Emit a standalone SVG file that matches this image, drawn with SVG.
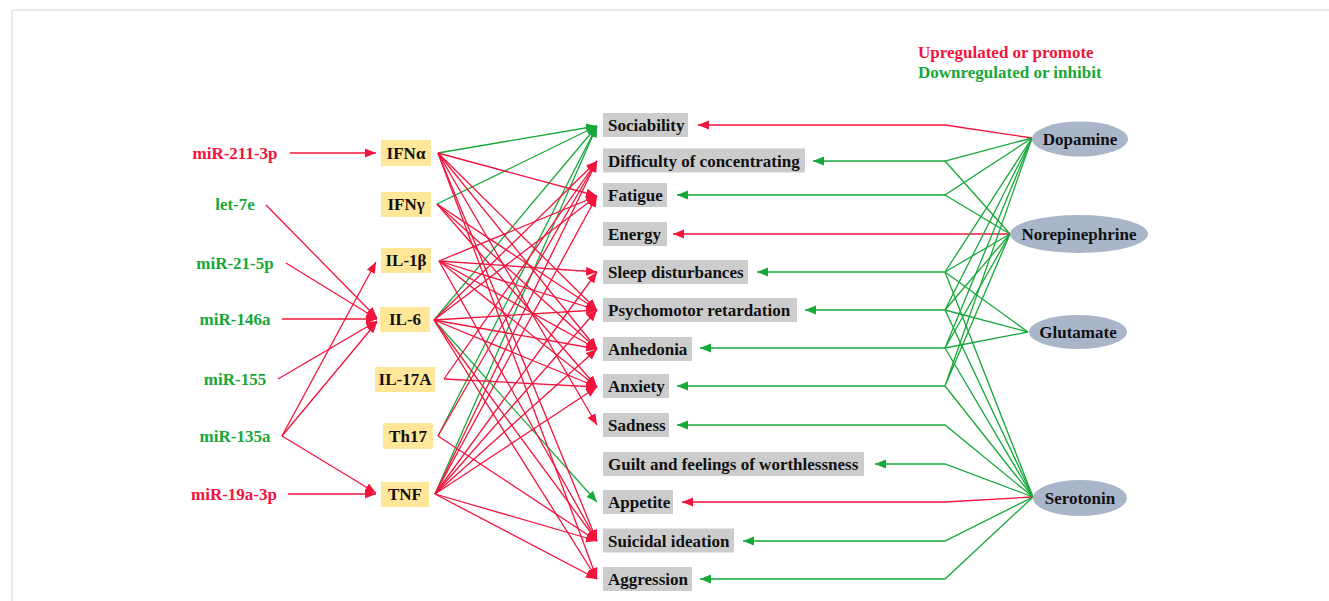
<svg xmlns="http://www.w3.org/2000/svg" width="1329" height="601" viewBox="0 0 1329 601">
<style>
text{font-family:"Liberation Serif","Times New Roman",serif;font-weight:bold;font-size:17px}
.r{fill:#f2143c}.g{fill:#17a83a}.k{fill:#111}
.cy{fill:#ffe699}.sy{fill:#cccccc}.nt{fill:#a9b6ca}
.lr{stroke:#f2143c;stroke-width:1.3;fill:none}
.lg{stroke:#17a83a;stroke-width:1.3;fill:none}
.ar{marker-end:url(#ahr)}.ag{marker-end:url(#ahg)}
</style>
<defs>
<marker id="ahr" markerUnits="userSpaceOnUse" markerWidth="12" markerHeight="10" refX="11" refY="4.5" orient="auto"><path d="M0,0 L11,4.5 L0,9 z" fill="#f2143c"/></marker>
<marker id="ahg" markerUnits="userSpaceOnUse" markerWidth="12" markerHeight="10" refX="11" refY="4.5" orient="auto"><path d="M0,0 L11,4.5 L0,9 z" fill="#17a83a"/></marker>
</defs>
<rect width="1329" height="601" fill="#fff"/>
<path d="M12,601 V10 H1329" stroke="#d4d4d4" stroke-width="1" fill="none"/>

<g id="legend">
<text class="r" x="918" y="58">Upregulated or promote</text>
<text class="g" x="918" y="78">Downregulated or inhibit</text>
</g>

<g id="connectors">
<!-- miRNA to cytokines -->
<line class="lr ar" x1="290" y1="153" x2="376" y2="153"/>
<line class="lr ar" x1="266" y1="205" x2="377" y2="318"/>
<line class="lr ar" x1="286" y1="263" x2="377" y2="319"/>
<line class="lr ar" x1="282" y1="319" x2="377" y2="319"/>
<line class="lr ar" x1="278" y1="379" x2="377" y2="321"/>
<line class="lr ar" x1="282" y1="436" x2="376" y2="262"/>
<line class="lr ar" x1="282" y1="436" x2="377" y2="322"/>
<line class="lr ar" x1="282" y1="436" x2="376" y2="493"/>
<line class="lr ar" x1="288" y1="494" x2="376" y2="494"/>
<!-- cytokines to symptoms: green -->
<line class="lg ag" x1="438" y1="153" x2="597" y2="126"/>
<line class="lg ag" x1="437" y1="204" x2="597" y2="126"/>
<line class="lg ag" x1="434" y1="320" x2="597" y2="126"/>
<line class="lg ag" x1="438" y1="436" x2="597" y2="126"/>
<line class="lg ag" x1="435" y1="494" x2="597" y2="126"/>
<line class="lg ag" x1="434" y1="320" x2="597" y2="502"/>
<!-- IFNa -->
<line class="lr ar" x1="438" y1="153" x2="597" y2="196"/>
<line class="lr ar" x1="438" y1="153" x2="597" y2="310"/>
<line class="lr ar" x1="438" y1="153" x2="597" y2="349"/>
<line class="lr ar" x1="438" y1="153" x2="597" y2="425"/>
<line class="lr ar" x1="438" y1="153" x2="597" y2="541"/>
<line class="lr ar" x1="438" y1="153" x2="597" y2="579"/>
<!-- IFNg -->
<line class="lr ar" x1="437" y1="204" x2="597" y2="310"/>
<line class="lr ar" x1="437" y1="204" x2="597" y2="349"/>
<line class="lr ar" x1="437" y1="204" x2="597" y2="387"/>
<!-- IL-1b -->
<line class="lr ar" x1="439" y1="261" x2="597" y2="196"/>
<line class="lr ar" x1="439" y1="261" x2="597" y2="272"/>
<line class="lr ar" x1="439" y1="261" x2="597" y2="310"/>
<line class="lr ar" x1="439" y1="261" x2="597" y2="349"/>
<line class="lr ar" x1="439" y1="261" x2="597" y2="387"/>
<line class="lr ar" x1="439" y1="261" x2="597" y2="541"/>
<!-- IL-6 -->
<line class="lr ar" x1="434" y1="320" x2="597" y2="161"/>
<line class="lr ar" x1="434" y1="320" x2="597" y2="196"/>
<line class="lr ar" x1="434" y1="320" x2="597" y2="310"/>
<line class="lr ar" x1="434" y1="320" x2="597" y2="349"/>
<line class="lr ar" x1="434" y1="320" x2="597" y2="387"/>
<line class="lr ar" x1="434" y1="320" x2="597" y2="541"/>
<line class="lr ar" x1="434" y1="320" x2="597" y2="579"/>
<!-- IL-17A -->
<line class="lr ar" x1="444" y1="379" x2="597" y2="161"/>
<line class="lr ar" x1="444" y1="379" x2="597" y2="387"/>
<!-- Th17 -->
<line class="lr ar" x1="438" y1="436" x2="597" y2="161"/>
<line class="lr ar" x1="438" y1="436" x2="597" y2="541"/>
<!-- TNF -->
<line class="lr ar" x1="435" y1="494" x2="597" y2="161"/>
<line class="lr ar" x1="435" y1="494" x2="597" y2="196"/>
<line class="lr ar" x1="435" y1="494" x2="597" y2="272"/>
<line class="lr ar" x1="435" y1="494" x2="597" y2="310"/>
<line class="lr ar" x1="435" y1="494" x2="597" y2="349"/>
<line class="lr ar" x1="435" y1="494" x2="597" y2="387"/>
<line class="lr ar" x1="435" y1="494" x2="597" y2="541"/>
<line class="lr ar" x1="435" y1="494" x2="597" y2="579"/>
<!-- neurotransmitters to symptoms -->
<path class="lr ar" d="M1032,138 L945,125 L698,125"/>
<path class="lg ag" d="M945,161 L813,161"/>
<path class="lg" d="M1032,138 L945,161 L1010,234"/>
<path class="lg ag" d="M945,195 L677,195"/>
<path class="lg" d="M1032,138 L945,195 L1010,234"/>
<path class="lr ar" d="M1010,234 L673,234"/>
<path class="lg ag" d="M945,272 L757,272"/>
<path class="lg" d="M1032,138 L945,272 L1010,234 M945,272 L1028,332 M945,272 L1033,497"/>
<path class="lg ag" d="M945,310 L805,310"/>
<path class="lg" d="M1032,138 L945,310 L1010,234 M945,310 L1028,332 M945,310 L1033,497"/>
<path class="lg ag" d="M945,348 L700,348"/>
<path class="lg" d="M1032,138 L945,348 L1010,234 M945,348 L1028,332 M945,348 L1033,497"/>
<path class="lg ag" d="M945,386 L677,386"/>
<path class="lg" d="M1032,138 L945,386 L1010,234 M945,386 L1033,497"/>
<path class="lg ag" d="M1033,497 L945,425 L677,425"/>
<path class="lg ag" d="M1033,497 L945,464 L875,464"/>
<path class="lr ar" d="M1033,497 L945,502 L682,502"/>
<path class="lg ag" d="M1033,497 L945,541 L743,541"/>
<path class="lg ag" d="M1033,497 L945,579 L700,579"/>
</g>

<g id="mirnas">
<text class="r" x="235" y="159" text-anchor="middle">miR-211-3p</text>
<text class="g" x="235" y="210" text-anchor="middle">let-7e</text>
<text class="g" x="235" y="269" text-anchor="middle">miR-21-5p</text>
<text class="g" x="235" y="325" text-anchor="middle">miR-146a</text>
<text class="g" x="235" y="385" text-anchor="middle">miR-155</text>
<text class="g" x="235" y="442" text-anchor="middle">miR-135a</text>
<text class="r" x="234" y="500" text-anchor="middle">miR-19a-3p</text>
</g>

<g id="IFNa"><rect class="cy" x="381" y="140" width="50" height="26"/><text class="k" x="406" y="159" text-anchor="middle">IFNα</text></g>
<g id="IFNg"><rect class="cy" x="381" y="192" width="50" height="25"/><text class="k" x="406" y="210" text-anchor="middle">IFNγ</text></g>
<g id="IL-1b"><rect class="cy" x="381" y="248" width="50" height="25"/><text class="k" x="406" y="266" text-anchor="middle">IL-1β</text></g>
<g id="IL-6"><rect class="cy" x="380" y="307" width="50" height="25"/><text class="k" x="405" y="325" text-anchor="middle">IL-6</text></g>
<g id="IL-17A"><rect class="cy" x="375" y="367" width="60" height="25"/><text class="k" x="405" y="385" text-anchor="middle">IL-17A</text></g>
<g id="Th17"><rect class="cy" x="383" y="423" width="50" height="26"/><text class="k" x="408" y="442" text-anchor="middle">Th17</text></g>
<g id="TNF"><rect class="cy" x="381" y="482" width="48" height="25"/><text class="k" x="405" y="500" text-anchor="middle">TNF</text></g>

<g id="Sociability"><rect class="sy" x="603" y="113" width="85" height="24"/><text class="k" x="608" y="131">Sociability</text></g>
<g id="Difficulty"><rect class="sy" x="603" y="148.5" width="202" height="24"/><text class="k" x="608" y="166.5">Difficulty of concentrating</text></g>
<g id="Fatigue"><rect class="sy" x="603" y="183" width="64" height="24"/><text class="k" x="608" y="201">Fatigue</text></g>
<g id="Energy"><rect class="sy" x="603" y="222" width="64" height="24"/><text class="k" x="608" y="240">Energy</text></g>
<g id="Sleep"><rect class="sy" x="603" y="260" width="145" height="24"/><text class="k" x="608" y="278">Sleep disturbances</text></g>
<g id="Psychomotor"><rect class="sy" x="603" y="298" width="194" height="24"/><text class="k" x="608" y="316">Psychomotor retardation</text></g>
<g id="Anhedonia"><rect class="sy" x="603" y="337" width="89" height="24"/><text class="k" x="608" y="355">Anhedonia</text></g>
<g id="Anxiety"><rect class="sy" x="603" y="374" width="66" height="24"/><text class="k" x="608" y="392">Anxiety</text></g>
<g id="Sadness"><rect class="sy" x="603" y="413" width="66" height="24"/><text class="k" x="608" y="431">Sadness</text></g>
<g id="Guilt"><rect class="sy" x="603" y="452" width="261" height="24"/><text class="k" x="608" y="470">Guilt and feelings of worthlessness</text></g>
<g id="Appetite"><rect class="sy" x="603" y="490" width="70" height="24"/><text class="k" x="608" y="508">Appetite</text></g>
<g id="Suicidal"><rect class="sy" x="603" y="528.5" width="131" height="24"/><text class="k" x="608" y="546.5">Suicidal ideation</text></g>
<g id="Aggression"><rect class="sy" x="603" y="567" width="89" height="24"/><text class="k" x="608" y="585">Aggression</text></g>

<g id="Dopamine"><ellipse class="nt" cx="1080" cy="139" rx="48" ry="17.5"/><text class="k" x="1080" y="145" text-anchor="middle">Dopamine</text></g>
<g id="Norepinephrine"><ellipse class="nt" cx="1079" cy="234" rx="69" ry="19"/><text class="k" x="1079" y="240" text-anchor="middle">Norepinephrine</text></g>
<g id="Glutamate"><ellipse class="nt" cx="1078" cy="332" rx="49" ry="17"/><text class="k" x="1078" y="338" text-anchor="middle">Glutamate</text></g>
<g id="Serotonin"><ellipse class="nt" cx="1080" cy="498" rx="47" ry="18"/><text class="k" x="1080" y="504" text-anchor="middle">Serotonin</text></g>
</svg>
